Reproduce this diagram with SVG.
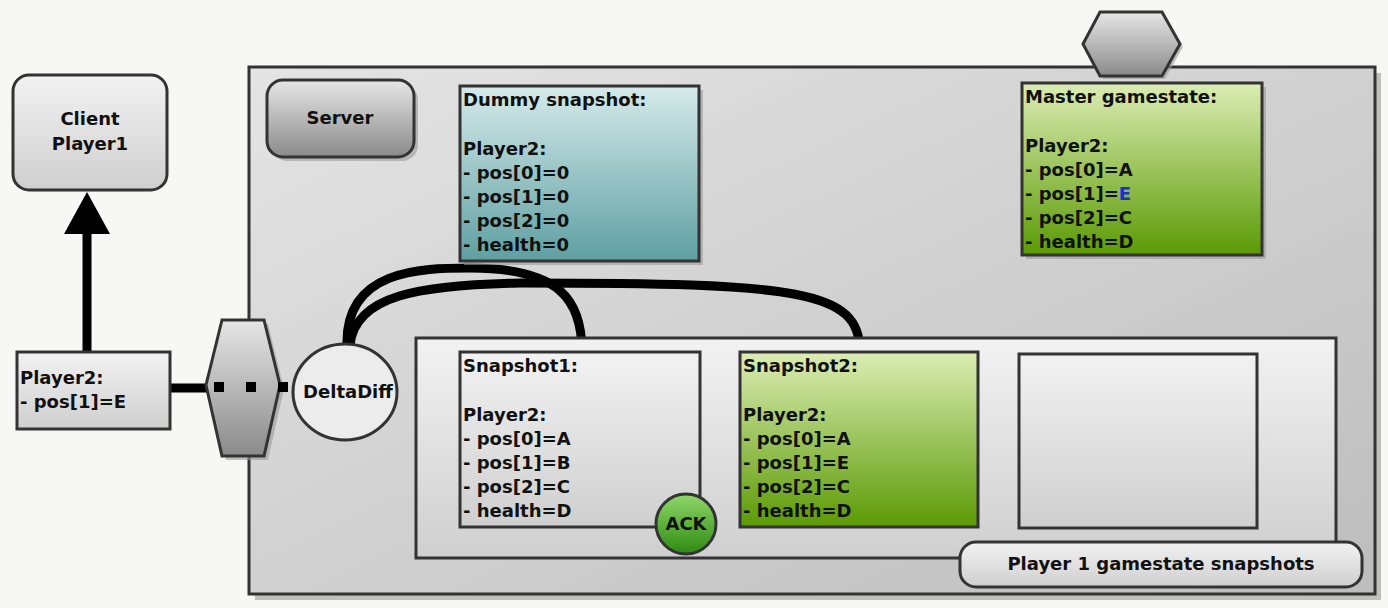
<svg xmlns="http://www.w3.org/2000/svg" width="1388" height="608" viewBox="0 0 1388 608">
<defs>
<linearGradient id="gGray" x1="0" y1="0" x2="0" y2="1"><stop offset="0" stop-color="#f2f2f2"/><stop offset="1" stop-color="#cfcfcf"/></linearGradient>
<linearGradient id="gDark" x1="0" y1="0" x2="0" y2="1"><stop offset="0" stop-color="#e6e6e6"/><stop offset="1" stop-color="#8a8a8a"/></linearGradient>
<linearGradient id="gTeal" x1="0" y1="0" x2="0" y2="1"><stop offset="0" stop-color="#d6eaea"/><stop offset="1" stop-color="#5e9fa2"/></linearGradient>
<linearGradient id="gGreen" x1="0" y1="0" x2="0" y2="1"><stop offset="0" stop-color="#dcedb4"/><stop offset="1" stop-color="#5b9a05"/></linearGradient>
<linearGradient id="gAck" x1="0" y1="0" x2="0" y2="1"><stop offset="0" stop-color="#8fd86a"/><stop offset="1" stop-color="#2e8a10"/></linearGradient>
<linearGradient id="gSrv" x1="0" y1="0" x2="1" y2="1"><stop offset="0" stop-color="#e4e4e4"/><stop offset="1" stop-color="#bdbdbd"/></linearGradient>
</defs>
<style>
.b{stroke:#333;stroke-width:3}
.t{font-family:"DejaVu Sans",Verdana,sans-serif;font-weight:bold;font-size:18px;fill:#111}
.sh{fill:#999;opacity:.6}
.c{fill:none;stroke:#000;stroke-width:9}
</style>
<rect width="1388" height="608" fill="#f7f7f5"/>
<g id="server">
<rect x="255" y="73" width="1126" height="527" class="sh"/>
<rect x="249" y="67" width="1126" height="527" fill="url(#gSrv)" class="b"/>
</g>
<g id="serverLabel">
<rect x="271" y="84" width="147" height="77" rx="16" class="sh"/>
<rect x="267" y="80" width="147" height="77" rx="16" fill="url(#gDark)" class="b"/>
<text x="340" y="124" class="t" text-anchor="middle">Server</text>
</g>
<g id="client">
<rect x="13" y="75" width="154" height="115" rx="16" fill="url(#gGray)" class="b"/>
<text x="90" y="125" class="t" text-anchor="middle">Client</text>
<text x="90" y="150" class="t" text-anchor="middle">Player1</text>
</g>
<g id="connectors">
<line x1="87" y1="352" x2="87" y2="230" stroke="#000" stroke-width="9"/>
<polygon points="87,192 64,234 110,234" fill="#000"/>
<line x1="170" y1="388" x2="210" y2="388" stroke="#000" stroke-width="9"/>
<path class="c" d="M347,345 C345,270 420,268 470,268 C560,268 582,300 582,352"/>
<path class="c" d="M350,345 C355,295 420,285 520,283 C800,283 860,290 860,352"/>
</g>
<g id="dummy">
<rect x="464" y="90" width="239" height="175" class="sh"/>
<rect x="460" y="86" width="239" height="175" fill="url(#gTeal)" class="b"/>
<text class="t"><tspan x="463" y="106">Dummy snapshot:</tspan><tspan x="463" y="155">Player2:</tspan><tspan x="463" y="179">- pos[0]=0</tspan><tspan x="463" y="203">- pos[1]=0</tspan><tspan x="463" y="227">- pos[2]=0</tspan><tspan x="463" y="251">- health=0</tspan></text>
</g>
<g id="hexTop">
<polygon points="1086,47 1103,15 1165,15 1183,47 1165,79 1103,79" class="sh"/>
<polygon points="1083,44 1100,12 1162,12 1180,44 1162,76 1100,76" fill="url(#gDark)" class="b"/>
</g>
<g id="master">
<rect x="1026" y="87" width="240" height="172" class="sh"/>
<rect x="1022" y="83" width="240" height="172" fill="url(#gGreen)" class="b"/>
<text class="t"><tspan x="1025" y="103">Master gamestate:</tspan><tspan x="1025" y="152">Player2:</tspan><tspan x="1025" y="176">- pos[0]=A</tspan><tspan x="1025" y="200">- pos[1]=<tspan fill="#1a2fd0">E</tspan></tspan><tspan x="1025" y="224">- pos[2]=C</tspan><tspan x="1025" y="248">- health=D</tspan></text>
</g>
<g id="snapshots">
<rect x="416" y="338" width="920" height="220" fill="url(#gGray)" class="b"/>
</g>
<g id="snapshot1">
<rect x="460" y="352" width="240" height="175" fill="url(#gGray)" class="b"/>
<text class="t"><tspan x="463" y="372">Snapshot1:</tspan><tspan x="463" y="421">Player2:</tspan><tspan x="463" y="445">- pos[0]=A</tspan><tspan x="463" y="469">- pos[1]=B</tspan><tspan x="463" y="493">- pos[2]=C</tspan><tspan x="463" y="517">- health=D</tspan></text>
</g>
<g id="ack">
<circle cx="686" cy="524" r="30" fill="url(#gAck)" class="b"/>
<text x="686" y="530" class="t" text-anchor="middle">ACK</text>
</g>
<g id="snapshot2">
<rect x="740" y="352" width="238" height="175" fill="url(#gGreen)" class="b"/>
<text class="t"><tspan x="743" y="372">Snapshot2:</tspan><tspan x="743" y="421">Player2:</tspan><tspan x="743" y="445">- pos[0]=A</tspan><tspan x="743" y="469">- pos[1]=E</tspan><tspan x="743" y="493">- pos[2]=C</tspan><tspan x="743" y="517">- health=D</tspan></text>
</g>
<g id="snapshot3">
<rect x="1019" y="354" width="238" height="174" fill="url(#gGray)" class="b"/>
</g>
<g id="snapLabel">
<rect x="960" y="542" width="402" height="45" rx="16" fill="url(#gGray)" class="b"/>
<text x="1161" y="570" class="t" text-anchor="middle">Player 1 gamestate snapshots</text>
</g>
<g id="player2">
<rect x="17" y="352" width="153" height="77" fill="url(#gGray)" class="b"/>
<text class="t"><tspan x="20" y="384">Player2:</tspan><tspan x="20" y="408">- pos[1]=E</tspan></text>
</g>
<g id="hexGate">
<polygon points="226,324 268,324 284,389 268,460 226,460 210,389" class="sh"/>
<polygon points="222,320 264,320 280,385 264,456 222,456 206,385" fill="url(#gDark)" class="b"/>
<rect x="214" y="382" width="10" height="10" fill="#000"/>
<rect x="246" y="382" width="10" height="10" fill="#000"/>
<rect x="278" y="382" width="10" height="10" fill="#000"/>
</g>
<g id="deltadiff">
<ellipse cx="345" cy="392" rx="52" ry="48" fill="#ececec" class="b"/>
<text x="348" y="398" class="t" text-anchor="middle">DeltaDiff</text>
</g>
</svg>
